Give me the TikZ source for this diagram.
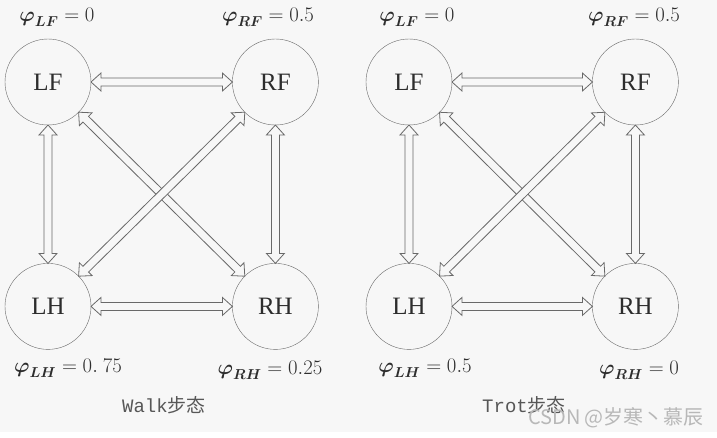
\documentclass[tikz,border=0pt]{standalone}
\usepackage{amsmath}
\usepackage{fontspec}
\setmainfont{Liberation Serif}
\setmonofont{Liberation Mono}
\newfontfamily\cjk{Noto Sans CJK SC}
\usetikzlibrary{positioning, calc}
\definecolor{GaitLine}{RGB}{105,105,105}
\definecolor{GaitText}{RGB}{45,45,45}
\definecolor{GaitBack}{RGB}{247,247,247}

% hollow two-headed block arrow between two leg circles
\newcommand{\gaitlink}[2]{%
  \draw[link]
    ($(#1)!43pt!(#2)$) coordinate (ta)
    ($(#2)!43pt!(#1)$) coordinate (tb)
    ($(ta)!10pt!(tb)$) coordinate (ha)
    ($(tb)!10pt!(ta)$) coordinate (hb)
    (ta) -- ($(ha)!9pt!90:(tb)$) -- ($(ha)!4pt!90:(tb)$)
    -- ($(hb)!4pt!-90:(ta)$) -- ($(hb)!9pt!-90:(ta)$) -- (tb)
    -- ($(hb)!9pt!90:(ta)$) -- ($(hb)!4pt!90:(ta)$)
    -- ($(ha)!4pt!-90:(tb)$) -- ($(ha)!9pt!-90:(tb)$) -- cycle;
}

\begin{document}
\begin{tikzpicture}[
    x=1pt, y=-1pt,
    leg/.style={
        draw=GaitLine,
        circle,
        minimum size=86pt,
        inner sep=0pt,
        text=GaitText,
        font=\fontsize{25}{25}\selectfont
    },
    phase/.style={
        text=GaitText,
        inner sep=0pt,
        font=\fontsize{20}{20}\selectfont
    },
    caption/.style={
        text=GaitText!80,
        inner sep=0pt,
        font=\fontsize{19}{19}\selectfont
    },
    link/.style={
        draw=GaitLine,
        fill=GaitBack,
        line width=0.8pt,
        line join=miter
    }
]
\fill[GaitBack] (0,0) rectangle (717,432);
\useasboundingbox (0,0) rectangle (717,437);

% Walk gait on the left
\node[leg] (wlf) at (48,82) {LF};
\node[leg, right=141pt of wlf] (wrf) {RF};
\node[leg, below=138pt of wlf] (wlh) {LH};
\node[leg, below=138pt of wrf] (wrh) {RH};

\node[phase] (wplf) at (57,17)  {$\boldsymbol{\varphi}_{\boldsymbol{LF}}=0$};
\node[phase] (wprf) at (268,17) {$\boldsymbol{\varphi}_{\boldsymbol{RF}}=0.5$};
\node[phase] (wplh) at (68,368) {$\boldsymbol{\varphi}_{\boldsymbol{LH}}=0.\ 75$};
\node[phase] (wprh) at (270,370) {$\boldsymbol{\varphi}_{\boldsymbol{RH}}=0.25$};
\node[caption] (walk) at (164,405) {\texttt{Walk}{\cjk 步态}};

\gaitlink{wlf}{wrf}
\gaitlink{wlh}{wrh}
\gaitlink{wlf}{wlh}
\gaitlink{wrf}{wrh}
\gaitlink{wlf}{wrh}
\gaitlink{wlh}{wrf}

% Trot gait on the right
\node[leg] (tlf) at (409,82) {LF};
\node[leg, right=140pt of tlf] (trf) {RF};
\node[leg, below=138pt of tlf] (tlh) {LH};
\node[leg, below=138pt of trf] (trh) {RH};

\node[phase] (tplf) at (417,17) {$\boldsymbol{\varphi}_{\boldsymbol{LF}}=0$};
\node[phase] (tprf) at (634,17) {$\boldsymbol{\varphi}_{\boldsymbol{RF}}=0.5$};
\node[phase] (tplh) at (425,368) {$\boldsymbol{\varphi}_{\boldsymbol{LH}}=0.5$};
\node[phase] (tprh) at (639,370) {$\boldsymbol{\varphi}_{\boldsymbol{RH}}=0$};
\node[caption] (trot) at (524,405) {\texttt{Trot}{\cjk 步态}};

\gaitlink{tlf}{trf}
\gaitlink{tlh}{trh}
\gaitlink{tlf}{tlh}
\gaitlink{trf}{trh}
\gaitlink{tlf}{trh}
\gaitlink{tlh}{trf}

% watermark
\node[inner sep=0pt, text=black!28, font=\cjk\fontsize{20}{20}\selectfont] (mark) at (616,418) {CSDN @岁寒丶慕辰};
\end{tikzpicture}
\end{document}
